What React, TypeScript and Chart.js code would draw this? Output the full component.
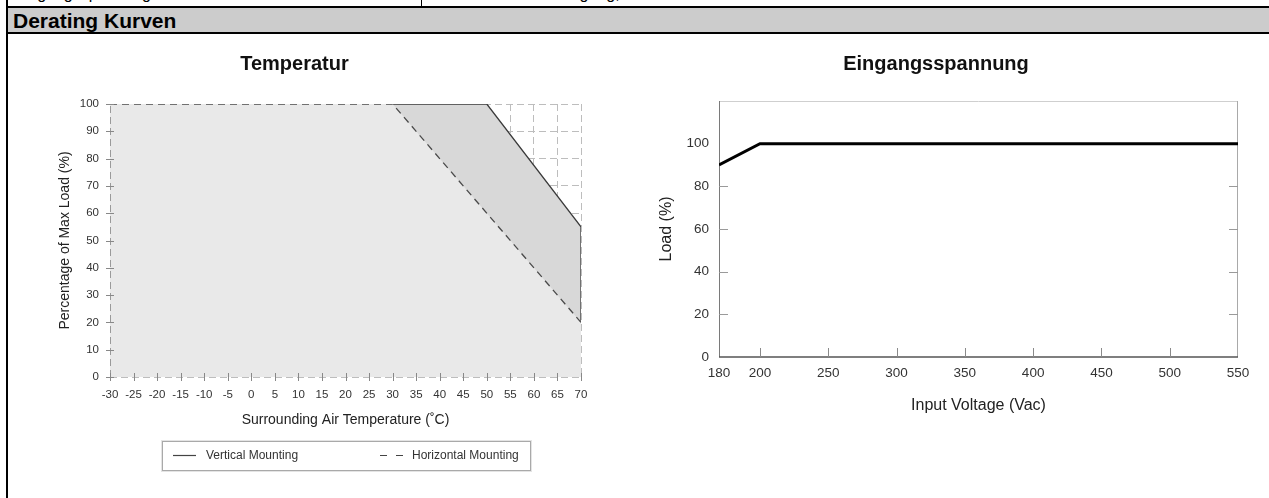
import React, { useEffect, useRef } from 'react';
import { Chart, registerables, LinearScale } from 'chart.js';

Chart.register(...registerables);

// ---------------- data ----------------
const seriesLabels = ['Vertical Mounting', 'Horizontal Mounting'];

// Temperature derating (x: °C, y: % of max load)
const tempVerticalX = [-30, 50, 70, 70];
const tempVerticalY = [100, 100, 55, 20];
const tempHorizontalX = [-30, 30, 70];
const tempHorizontalY = [100, 100, 20];
const tempTicksX = [-30, -25, -20, -15, -10, -5, 0, 5, 10, 15, 20, 25, 30, 35, 40, 45, 50, 55, 60, 65, 70];
const tempTicksY = [0, 10, 20, 30, 40, 50, 60, 70, 80, 90, 100];

// Input voltage derating (x: Vac, y: load %)
const voltX = [180, 200, 550];
const voltLoad = [90, 100, 100];
const voltTicksX = [180, 200, 250, 300, 350, 400, 450, 500, 550];
const voltTicksY = [0, 20, 40, 60, 80, 100];

// ---------------- styles ----------------
const FONT = "'Liberation Sans', Arial, Helvetica, sans-serif";
Chart.defaults.font.family = FONT;

// the voltage axis is drawn with a stretched first section (180..200)
const VOLT_BREAK = 200;
const VOLT_STRETCH = 1.5;
const warpVolt = (v: number) => (v < VOLT_BREAK ? VOLT_BREAK - (VOLT_BREAK - v) * VOLT_STRETCH : v);
const unwarpVolt = (v: number) => (v < VOLT_BREAK ? VOLT_BREAK - (VOLT_BREAK - v) / VOLT_STRETCH : v);

class BrokenLinearScale extends (LinearScale as any) {
  static id = 'brokenLinear';
  static defaults = (LinearScale as any).defaults;
  getPixelForValue(value: number) {
    return super.getPixelForValue(warpVolt(value));
  }
  getValueForPixel(pixel: number) {
    return unwarpVolt(super.getValueForPixel(pixel));
  }
}
Chart.register(BrokenLinearScale as any);

type Edge = 'left' | 'right' | 'top' | 'bottom';
interface FrameSide { side: Edge; color: string; width: number; dash?: number[] }
interface TickMarks { scale: string; values: number[]; edge: Edge; inner: number; outer: number; color: string; width: number }
interface DecorCfg { frameUnder?: FrameSide[]; frameOver?: FrameSide[]; ticks?: TickMarks[] }

function drawFrame(chart: any, sides?: FrameSide[]) {
  if (!sides) return;
  const { ctx } = chart;
  const { left, right, top, bottom } = chart.chartArea;
  for (const f of sides) {
    ctx.save();
    ctx.strokeStyle = f.color;
    ctx.lineWidth = f.width;
    ctx.setLineDash(f.dash || []);
    ctx.beginPath();
    if (f.side === 'left') { ctx.moveTo(left + 0.5, bottom); ctx.lineTo(left + 0.5, top); }
    if (f.side === 'right') { ctx.moveTo(right - 0.5, bottom); ctx.lineTo(right - 0.5, top); }
    if (f.side === 'top') { ctx.moveTo(left, top + 0.5); ctx.lineTo(right, top + 0.5); }
    if (f.side === 'bottom') { ctx.moveTo(left, bottom); ctx.lineTo(right, bottom); }
    ctx.stroke();
    ctx.restore();
  }
}

function drawTickMarks(chart: any, marks?: TickMarks[]) {
  if (!marks) return;
  const { ctx } = chart;
  const { left, right, bottom, top } = chart.chartArea;
  for (const m of marks) {
    const scale = chart.scales[m.scale];
    ctx.save();
    ctx.strokeStyle = m.color;
    ctx.lineWidth = m.width;
    ctx.beginPath();
    for (const v of m.values) {
      const p = Math.round(scale.getPixelForValue(v)) + 0.5;
      if (m.edge === 'bottom') { ctx.moveTo(p, bottom - m.inner); ctx.lineTo(p, bottom + m.outer); }
      if (m.edge === 'top') { ctx.moveTo(p, top - m.outer); ctx.lineTo(p, top + m.inner); }
      if (m.edge === 'left') { ctx.moveTo(left - m.outer, p); ctx.lineTo(left + m.inner, p); }
      if (m.edge === 'right') { ctx.moveTo(right - m.inner, p); ctx.lineTo(right + m.outer, p); }
    }
    ctx.stroke();
    ctx.restore();
  }
}

const makeDecor = (cfg: DecorCfg) => ({
  id: 'decor',
  beforeDatasetsDraw(chart: any) { drawFrame(chart, cfg.frameUnder); },
  afterDatasetsDraw(chart: any) { drawFrame(chart, cfg.frameOver); drawTickMarks(chart, cfg.ticks); },
});

const LIGHT_FILL = 'rgb(233,233,233)';
const DARK_FILL = 'rgb(216,216,216)';
const GRID = '#bdbdbd';

function useChart(ref: React.RefObject<HTMLCanvasElement>, build: () => any) {
  useEffect(() => {
    if (!ref.current) return;
    const chart = new Chart(ref.current, build());
    return () => chart.destroy();
  }, []);
}

function TempChart() {
  const ref = useRef<HTMLCanvasElement>(null);
  useChart(ref, () => ({
    type: 'line',
    data: {
      datasets: [
        {
          label: seriesLabels[1],
          data: tempHorizontalX.map((x, i) => ({ x, y: tempHorizontalY[i] })),
          borderColor: '#4a4a4a',
          borderWidth: 1.3,
          borderDash: [7, 5],
          backgroundColor: LIGHT_FILL,
          fill: 'origin',
          pointRadius: 0,
        },
        {
          label: seriesLabels[0],
          data: tempVerticalX.map((x, i) => ({ x, y: tempVerticalY[i] })),
          borderColor: '#3a3a3a',
          borderWidth: 1.3,
          backgroundColor: DARK_FILL,
          fill: 'origin',
          pointRadius: 0,
        },
      ],
    },
    options: {
      animation: false,
      responsive: false,
      events: [],
      layout: { padding: { left: 0, right: 53, top: 0, bottom: 69 } },
      plugins: {
        legend: { display: false },
        tooltip: { enabled: false },
        title: {
          display: true,
          text: 'Temperatur',
          color: '#111',
          font: { size: 20, weight: 'bold', family: FONT },
          padding: { top: 18, bottom: 28 },
        },
      },
      scales: {
        x: {
          type: 'linear',
          min: -30,
          max: 70,
          afterBuildTicks: (s: any) => { s.ticks = tempTicksX.map((value) => ({ value })); },
          afterFit: (s: any) => { s.height = 52; },
          grid: { color: GRID, lineWidth: 1, drawTicks: false },
          border: { display: false, dash: [7, 4] },
          ticks: { autoSkip: false, maxRotation: 0, minRotation: 0, padding: 11, color: '#333', font: { size: 11.5 }, callback: (v: any) => String(v) },
          title: { display: true, text: 'Surrounding Air Temperature (˚C)', color: '#222', font: { size: 14 }, padding: { top: 0, bottom: 0 } },
        },
        y: {
          type: 'linear',
          min: 0,
          max: 100,
          afterBuildTicks: (s: any) => { s.ticks = tempTicksY.map((value) => ({ value })); },
          afterFit: (s: any) => { s.width = 102; },
          grid: { color: GRID, lineWidth: 1, drawTicks: false },
          border: { display: false, dash: [7, 4] },
          ticks: { padding: 11, color: '#333', font: { size: 11.5 }, callback: (v: any) => String(v) },
          title: { display: true, text: 'Percentage of Max Load (%)', color: '#222', font: { size: 14 }, padding: { top: 48.6, bottom: 0 } },
        },
      },
    },
    plugins: [
      makeDecor({
        frameOver: [{ side: 'left', color: '#9a9a9a', width: 1, dash: [7, 4] }],
        ticks: [
          { scale: 'x', values: tempTicksX, edge: 'bottom', inner: 4, outer: 4, color: '#888', width: 1 },
          { scale: 'y', values: tempTicksY, edge: 'left', inner: 4, outer: 4, color: '#888', width: 1 },
        ],
      }),
    ],
  }));
  return (
    <canvas
      ref={ref}
      width={626}
      height={464}
      style={{ position: 'absolute', left: 8, top: 34, width: 626, height: 464 }}
    />
  );
}

function VoltChart() {
  const ref = useRef<HTMLCanvasElement>(null);
  useChart(ref, () => ({
    type: 'line',
    data: {
      datasets: [
        {
          label: 'Load',
          data: voltX.map((x, i) => ({ x, y: voltLoad[i] })),
          borderColor: '#000',
          borderWidth: 3,
          fill: false,
          pointRadius: 0,
        },
      ],
    },
    options: {
      animation: false,
      responsive: false,
      events: [],
      layout: { padding: { left: 0, right: 31, top: 0, bottom: 83 } },
      plugins: {
        legend: { display: false },
        tooltip: { enabled: false },
        title: {
          display: true,
          text: 'Eingangsspannung',
          color: '#111',
          font: { size: 20, weight: 'bold', family: FONT },
          padding: { top: 18, bottom: 25 },
        },
      },
      scales: {
        x: {
          type: 'brokenLinear',
          bounds: 'data',
          min: warpVolt(voltTicksX[0]),
          max: voltTicksX[voltTicksX.length - 1],
          afterBuildTicks: (s: any) => { s.ticks = voltTicksX.map((value) => ({ value })); },
          afterFit: (s: any) => { s.height = 58; },
          grid: { display: false, drawTicks: false },
          border: { display: false },
          ticks: { autoSkip: false, maxRotation: 0, minRotation: 0, padding: 8, color: '#333', font: { size: 13.5 }, callback: (v: any) => String(v) },
          title: { display: true, text: 'Input Voltage (Vac)', color: '#222', font: { size: 16 }, padding: { top: 0, bottom: 0 } },
        },
        y: {
          type: 'linear',
          min: 0,
          max: 120,
          afterBuildTicks: (s: any) => { s.ticks = voltTicksY.map((value) => ({ value })); },
          afterFit: (s: any) => { s.width = 85; },
          grid: { display: false, drawTicks: false },
          border: { display: false },
          ticks: { padding: 10, color: '#333', font: { size: 13.5 }, callback: (v: any) => String(v) },
          title: { display: true, text: 'Load (%)', color: '#222', font: { size: 16 }, padding: { top: 23.4, bottom: 0 } },
        },
      },
    },
    plugins: [
      makeDecor({
        frameUnder: [
          { side: 'top', color: '#cfcfcf', width: 1 },
          { side: 'right', color: '#a9a9a9', width: 1 },
          { side: 'left', color: '#7a7a7a', width: 1 },
          { side: 'bottom', color: '#555', width: 1.6 },
        ],
        ticks: [
          { scale: 'x', values: voltTicksX.slice(1, -1), edge: 'bottom', inner: 9, outer: 0, color: '#8a8a8a', width: 1 },
          { scale: 'y', values: voltTicksY.slice(1, -1), edge: 'left', inner: 9, outer: 0, color: '#9a9a9a', width: 1 },
          { scale: 'y', values: voltTicksY.slice(1, -1), edge: 'right', inner: 9, outer: 0, color: '#9a9a9a', width: 1 },
        ],
      }),
    ],
  }));
  return (
    <canvas
      ref={ref}
      width={635}
      height={464}
      style={{ position: 'absolute', left: 634, top: 34, width: 635, height: 464 }}
    />
  );
}

const legendEntries = [
  { label: seriesLabels[0], dash: undefined as string | undefined, sampleLeft: 10, textLeft: 43 },
  { label: seriesLabels[1], dash: '7 9', sampleLeft: 217, textLeft: 249 },
];

function HtmlLegend() {
  return (
    <div
      style={{
        position: 'absolute', left: 162, top: 441, width: 369, height: 30,
        border: '1px solid #a9a9a9', boxShadow: '0 0 0 1px #e4e4e4', boxSizing: 'border-box', background: '#fff',
      }}
    >
      {legendEntries.map((e) => (
        <React.Fragment key={e.label}>
          <svg style={{ position: 'absolute', left: e.sampleLeft, top: 12 }} width={24} height={3}>
            <line x1={0} y1={1.5} x2={23} y2={1.5} stroke="#444" strokeWidth={1.2} strokeDasharray={e.dash} />
          </svg>
          <span style={{ position: 'absolute', left: e.textLeft, top: 5, fontSize: 12, lineHeight: '16px', color: '#333', whiteSpace: 'nowrap' }}>
            {e.label}
          </span>
        </React.Fragment>
      ))}
    </div>
  );
}

export default function App() {
  return (
    <div style={{ position: 'fixed', left: 0, top: 0, width: 1269, height: 498, overflow: 'hidden', background: '#fff', fontFamily: FONT }}>
      {/* clipped row above the section header */}
      <div style={{ position: 'absolute', left: 8, top: 0, width: 413, height: 6, overflow: 'hidden' }}>
        <div style={{ position: 'absolute', left: 6, top: -14, fontSize: 16, lineHeight: '16px', whiteSpace: 'nowrap', color: '#000' }}>
          Eingangsspannungsbereich
        </div>
      </div>
      <div style={{ position: 'absolute', left: 422, top: 0, width: 847, height: 6, overflow: 'hidden' }}>
        <div style={{ position: 'absolute', left: 44, top: -14, fontSize: 16, lineHeight: '16px', whiteSpace: 'nowrap', color: '#000' }}>
          Weitbereichseingang,
        </div>
      </div>
      <div style={{ position: 'absolute', left: 421, top: 0, width: 1, height: 6, background: '#000' }} />

      {/* section header */}
      <div style={{ position: 'absolute', left: 6, top: 6, width: 1263, height: 2, background: '#000' }} />
      <div style={{ position: 'absolute', left: 8, top: 8, width: 1261, height: 24, background: '#cccccc' }} />
      <div style={{ position: 'absolute', left: 6, top: 32, width: 1263, height: 2, background: '#000' }} />
      <div style={{ position: 'absolute', left: 13, top: 11, fontSize: 21, lineHeight: '20px', fontWeight: 'bold', color: '#000', whiteSpace: 'nowrap' }}>
        Derating Kurven
      </div>
      <div style={{ position: 'absolute', left: 6, top: 0, width: 2, height: 498, background: '#000' }} />

      <TempChart />
      <VoltChart />
      <HtmlLegend />
    </div>
  );
}
